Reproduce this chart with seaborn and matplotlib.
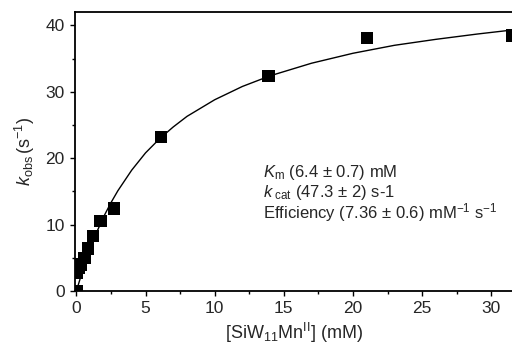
import numpy as np
import matplotlib
matplotlib.use("Agg")
import matplotlib.pyplot as plt
import seaborn as sns
from matplotlib.ticker import MultipleLocator

# measured rate constants
conc_mM = [0.0, 0.05, 0.15, 0.3, 0.6, 0.85, 1.2, 1.75, 2.7, 6.1, 13.9, 21.0, 31.5]
k_obs = [0.0, 2.8, 3.5, 4.0, 5.0, 6.4, 8.3, 10.5, 12.4, 23.2, 32.4, 38.1, 38.5]

# fitted Michaelis-Menten curve
fit_x = [0, 0.5, 1, 1.5, 2, 2.5, 3, 4, 5, 6, 7, 8, 10, 12, 14, 17, 20, 23, 26, 29, 31.5]
fit_y = [0, 3.4, 6.4, 9.0, 11.3, 13.3, 15.1, 18.2, 20.8, 22.9, 24.7, 26.3, 28.8,
         30.8, 32.4, 34.3, 35.8, 37.0, 37.9, 38.7, 39.3]

fit_text = [
    r"$K_{\mathrm{m}}$ (6.4 ± 0.7) mM",
    r"$k_{\mathrm{\ cat}}$ (47.3 ± 2) s-1",
    r"Efficiency (7.36 ± 0.6) mM$^{-1}$ s$^{-1}$",
]

sns.set_style("white")
plt.rcParams["font.family"] = ["Liberation Sans", "DejaVu Sans"]
plt.rcParams["mathtext.fontset"] = "custom"
plt.rcParams["mathtext.rm"] = "Liberation Sans"
plt.rcParams["mathtext.it"] = "Liberation Sans:italic"

fig = plt.figure(figsize=(5.12, 3.56), dpi=100)
ax = fig.add_axes([0.1465, 0.1826, 0.8535, 0.7834])

sns.lineplot(x=fit_x, y=fit_y, sort=False, color="black", lw=1.0, ax=ax)
sns.scatterplot(x=conc_mM, y=k_obs, marker="s", s=80, color="black",
                edgecolor="none", ax=ax, zorder=3)

ax.set_xlim(-0.1, 31.5)
ax.set_ylim(0, 42)
ax.xaxis.set_major_locator(MultipleLocator(5))
ax.xaxis.set_minor_locator(MultipleLocator(2.5))
ax.yaxis.set_major_locator(MultipleLocator(10))
ax.yaxis.set_minor_locator(MultipleLocator(5))
ax.tick_params(which="major", direction="out", length=3.5, width=1, labelsize=12.5,
               pad=4, bottom=True, left=True, color="black")
ax.tick_params(which="minor", direction="out", length=2.5, width=1,
               bottom=True, left=True, color="black")

for side in ["left", "bottom", "top"]:
    ax.spines[side].set_color("black")
    ax.spines[side].set_linewidth(1.3)
ax.spines["right"].set_visible(False)

ax.set_xlabel(r"[SiW$_{11}$Mn$^{\mathrm{II}}$] (mM)", fontsize=13, labelpad=3)
ax.set_ylabel(r"$k_{\mathrm{obs}}\,(\mathrm{s}^{-1})$", fontsize=13, labelpad=6)

for i, t in enumerate(fit_text):
    ax.text(13.5, 17.8 - 3.0 * i, t, fontsize=12, va="center", ha="left")

fig.savefig("out.png", dpi=100)
